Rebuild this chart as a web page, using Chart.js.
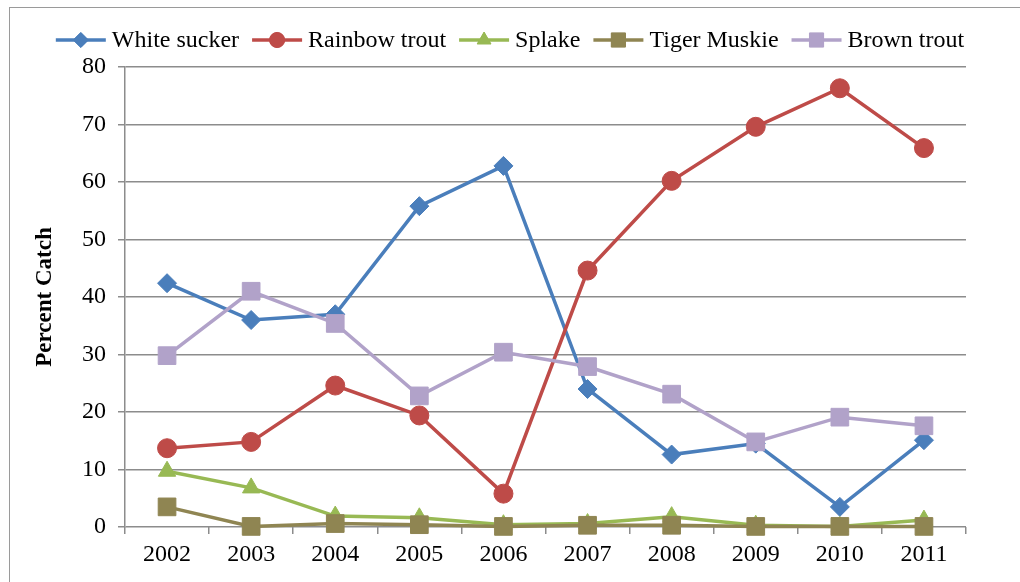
<!DOCTYPE html>
<html>
<head>
<meta charset="utf-8">
<script src="https://cdn.jsdelivr.net/npm/chart.js@4.4.1/dist/chart.umd.min.js"></script>
<style>
    html, body { margin: 0; padding: 0; background: #fff; overflow: hidden; }
    #wrap { position: relative; width: 1020px; height: 582px; }
    #frame { position: absolute; left: 9px; top: 7px; width: 1020px; height: 590px; border-left: 1px solid #9a9a9a; border-top: 1px solid #9a9a9a; }
    #chart { position: absolute; left: 0; top: 0; }
</style>
</head>
<body>
<div id="wrap">
    <div id="frame"></div>
    <canvas id="chart" width="1020" height="582"></canvas>
</div>
<script>
const years = ['2002', '2003', '2004', '2005', '2006', '2007', '2008', '2009', '2010', '2011'];

const whiteSucker = [42.4, 36.0, 37.0, 55.8, 62.8, 24.0, 12.6, 14.5, 3.5, 15.1];
const rainbowTrout = [13.7, 14.8, 24.6, 19.4, 5.8, 44.6, 60.2, 69.6, 76.3, 65.9];
const splake = [9.7, 6.8, 1.9, 1.6, 0.4, 0.6, 1.8, 0.3, 0.1, 1.2];
const tigerMuskie = [3.5, 0.1, 0.6, 0.4, 0.1, 0.3, 0.3, 0.1, 0.1, 0.1];
const brownTrout = [29.8, 41.0, 35.4, 22.8, 30.4, 27.9, 23.1, 14.8, 19.1, 17.6];

const seriesNames = ['White sucker', 'Rainbow trout', 'Splake', 'Tiger Muskie', 'Brown trout'];
const seriesData = [whiteSucker, rainbowTrout, splake, tigerMuskie, brownTrout];
const seriesColors = ['#4a7ebb', '#be4b48', '#98b954', '#8f8552', '#b1a2c9'];
const seriesMarkers = ['rectRot', 'circle', 'triangle', 'rect', 'rect'];
const markerSizes = [9.5, 9.5, 10, 12.5, 12.5];

const yTicks = { min: 0, max: 80, step: 10 };

const FONT = '"Liberation Serif", "Times New Roman", serif';

// custom legend: short line with the marker in the middle, like the office charts
const lineLegend = {
    id: 'lineLegend',
    afterDraw(chart) {
        const ctx = chart.ctx;
        const lineLen = 50, gapText = 6, gapItem = 13;
        ctx.save();
        ctx.font = '24px ' + FONT;
        const widths = seriesNames.map(n => ctx.measureText(n).width);
        let total = 0;
        widths.forEach(w => total += lineLen + gapText + w + gapItem);
        total -= gapItem;
        let x = chart.width / 2 - total / 2;
        const y = 40;
        seriesNames.forEach((name, i) => {
            ctx.strokeStyle = seriesColors[i];
            ctx.lineWidth = 3.5;
            ctx.beginPath();
            ctx.moveTo(x, y);
            ctx.lineTo(x + lineLen, y);
            ctx.stroke();
            ctx.fillStyle = seriesColors[i];
            ctx.lineWidth = 1;
            Chart.helpers.drawPoint(ctx, {
                pointStyle: seriesMarkers[i],
                radius: markerSizes[i] * 0.8,
                rotation: 0,
                borderWidth: 1
            }, x + lineLen / 2, y);
            ctx.fill();
            ctx.fillStyle = '#000';
            ctx.textBaseline = 'middle';
            ctx.textAlign = 'left';
            ctx.fillText(name, x + lineLen + gapText, y + 1);
            x += lineLen + gapText + widths[i] + gapItem;
        });
        ctx.restore();
    }
};

const datasets = seriesNames.map((name, i) => ({
    label: name,
    data: seriesData[i],
    borderColor: seriesColors[i],
    backgroundColor: seriesColors[i],
    borderWidth: 3.5,
    pointStyle: seriesMarkers[i],
    pointRadius: markerSizes[i],
    pointBackgroundColor: seriesColors[i],
    pointBorderColor: seriesColors[i],
    pointBorderWidth: 1,
    tension: 0,
    clip: false,
    order: seriesNames.length - i
}));

new Chart(document.getElementById('chart'), {
    type: 'line',
    data: { labels: years, datasets },
    plugins: [lineLegend],
    options: {
        responsive: false,
        animation: false,
        devicePixelRatio: 1,
        layout: { padding: { top: 67, right: 54, bottom: 0, left: 0 } },
        plugins: {
            legend: { display: false },
            tooltip: { enabled: false }
        },
        scales: {
            x: {
                offset: true,
                grid: {
                    offset: true,
                    drawOnChartArea: false,
                    drawTicks: true,
                    tickLength: 7,
                    color: '#8c8c8c',
                    lineWidth: 1.5
                },
                border: { display: false },
                ticks: {
                    color: '#000',
                    font: { family: FONT, size: 24 },
                    padding: 6,
                    maxRotation: 0
                },
                afterFit: s => { s.height = 55; }
            },
            y: {
                min: yTicks.min,
                max: yTicks.max,
                grid: {
                    color: '#8c8c8c',
                    lineWidth: 1.5,
                    tickLength: 7
                },
                border: { display: true, color: '#8c8c8c', width: 1.5 },
                ticks: {
                    stepSize: yTicks.step,
                    color: '#000',
                    font: { family: FONT, size: 24 },
                    padding: 12
                },
                title: {
                    display: true,
                    text: 'Percent Catch',
                    color: '#000',
                    font: { family: FONT, size: 23, weight: 'bold' },
                    padding: { top: 31, bottom: 0 }
                },
                afterFit: s => { s.width = 125; }
            }
        }
    }
});
</script>
</body>
</html>
